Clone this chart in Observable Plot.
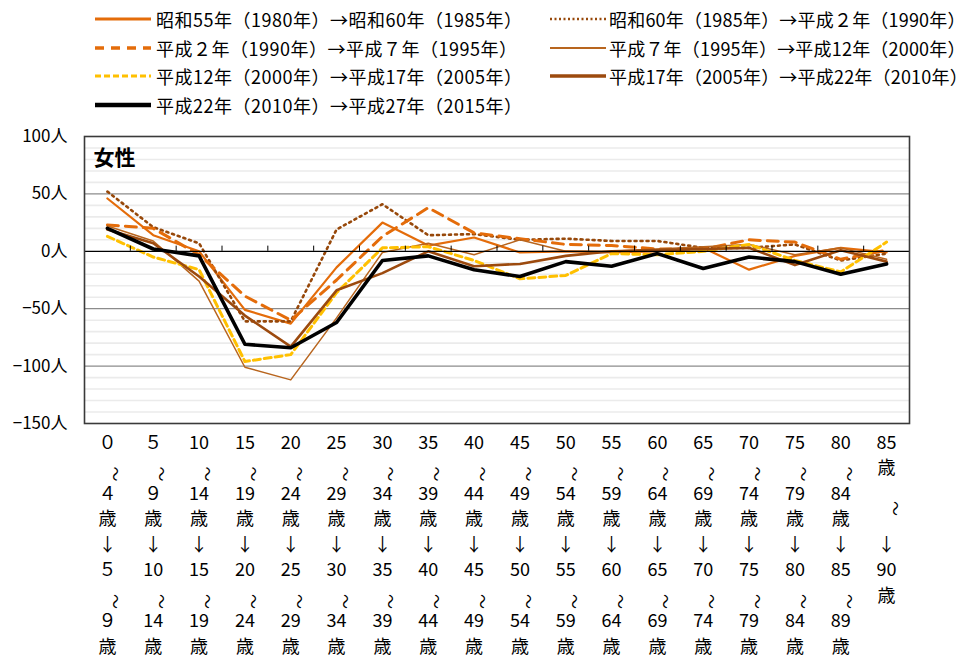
<!DOCTYPE html>
<html><head><meta charset="utf-8">
<script src="https://cdn.jsdelivr.net/npm/d3@7"></script>
<script src="https://cdn.jsdelivr.net/npm/@observablehq/plot@0.6"></script>
<style>
body{margin:0;background:#fff;font-family:"Noto Sans CJK JP","Noto Sans",sans-serif;color:#000;}
#legend{position:relative;width:974px;height:118px;overflow:hidden;}
.sw{position:absolute;width:56px;height:10px;}
.lt{position:absolute;font-size:18px;line-height:24px;white-space:nowrap;letter-spacing:0.5px;}
.lt.c2{letter-spacing:0.2px;}
#chart{width:974px;}
</style></head><body>
<div id="legend"></div>
<div id="chart"></div>
<script>
// ---- data ----
const seriesNames = [
  "昭和55年（1980年）→昭和60年（1985年）",
  "昭和60年（1985年）→平成２年（1990年）",
  "平成２年（1990年）→平成７年（1995年）",
  "平成７年（1995年）→平成12年（2000年）",
  "平成12年（2000年）→平成17年（2005年）",
  "平成17年（2005年）→平成22年（2010年）",
  "平成22年（2010年）→平成27年（2015年）"
];
const s1 = [46, 14, 0, -51, -63, -14, 25, 5, 12, -1, 0, -1, 0, 3, -16, -4, 3, -1];
const s2 = [52, 21, 7, -61, -61, 19, 41, 14, 15, 10, 11, 9, 9, 3, 3, 6, -8, -2];
const s3 = [23, 20, -3, -39, -60, -25, 13, 38, 16, 11, 6, 5, 2, 2, 10, 8, -7, 1];
const s4 = [22, 9, -26, -101, -112, -58, -1, 7, -3, 10, 0, 0, 2, 4, 6, -3, 3, -7];
const s5 = [13, -5, -16, -96, -90, -36, 3, 4, -8, -24, -21, -2, -3, 0, 6, -8, -18, 8];
const s6 = [19, 7, -22, -56, -83, -34, -19, 0, -13, -11, -4, 0, 1, 2, 3, -12, 1, -9];
const s7 = [20, 2, -4, -81, -84, -62, -8, -4, -16, -22, -9, -13, -2, -15, -5, -9, -20, -11];
const seriesValues = [s1, s2, s3, s4, s5, s6, s7];
const tickLabels = [
  "０|～|４|歳|↓|５|～|９|歳",
  "５|～|９|歳|↓|10|～|14|歳",
  "10|～|14|歳|↓|15|～|19|歳",
  "15|～|19|歳|↓|20|～|24|歳",
  "20|～|24|歳|↓|25|～|29|歳",
  "25|～|29|歳|↓|30|～|34|歳",
  "30|～|34|歳|↓|35|～|39|歳",
  "35|～|39|歳|↓|40|～|44|歳",
  "40|～|44|歳|↓|45|～|49|歳",
  "45|～|49|歳|↓|50|～|54|歳",
  "50|～|54|歳|↓|55|～|59|歳",
  "55|～|59|歳|↓|60|～|64|歳",
  "60|～|64|歳|↓|65|～|69|歳",
  "65|～|69|歳|↓|70|～|74|歳",
  "70|～|74|歳|↓|75|～|79|歳",
  "75|～|79|歳|↓|80|～|84|歳",
  "80|～|84|歳|↓|85|～|89|歳",
  "85|歳|～|↓|90|歳"
];
const yTicks = [-150, -100, -50, 0, 50, 100];
const panelLabel = "女性";

// ---- styles ----
const styles = [
  {stroke:"#e46c0a", strokeWidth:2.2},
  {stroke:"#97480a", strokeWidth:2.6, strokeDasharray:"2 4"},
  {stroke:"#e46c0a", strokeWidth:3, strokeDasharray:"11 7"},
  {stroke:"#b8651e", strokeWidth:1.5},
  {stroke:"#ffc000", strokeWidth:3, strokeDasharray:"7 4"},
  {stroke:"#9c4a0e", strokeWidth:2.6},
  {stroke:"#000000", strokeWidth:3.6}
];
const legendStyles = [
  {stroke:"#e46c0a", w:3},
  {stroke:"#97480a", w:2.5, dash:"2 2.5"},
  {stroke:"#e46c0a", w:3.5, dash:"9 7"},
  {stroke:"#b8651e", w:2},
  {stroke:"#ffc000", w:3, dash:"6 3"},
  {stroke:"#9c4a0e", w:3.5},
  {stroke:"#000", w:4.5}
];

// ---- legend ----
const legend = document.getElementById("legend");
const rowY = [19, 47.5, 76, 104.5];
seriesNames.forEach((name, k) => {
  const col = k % 2, row = Math.floor(k / 2);
  const sx = col === 0 ? 95 : 550, tx = col === 0 ? 156 : 609;
  const ls = legendStyles[k];
  const sw = document.createElementNS("http://www.w3.org/2000/svg", "svg");
  sw.setAttribute("class", "sw");
  sw.setAttribute("width", 56); sw.setAttribute("height", 10);
  sw.style.left = sx + "px"; sw.style.top = (rowY[row] - 5) + "px";
  sw.innerHTML = `<line x1="0" y1="5" x2="56" y2="5" stroke="${ls.stroke}" stroke-width="${ls.w}" ${ls.dash ? `stroke-dasharray="${ls.dash}"` : ""}/>`;
  legend.appendChild(sw);
  const t = document.createElement("div");
  t.className = col === 0 ? "lt" : "lt c2"; t.textContent = name;
  t.style.left = tx + "px"; t.style.top = (rowY[row] - 12) + "px";
  legend.appendChild(t);
});

// ---- chart ----
const rows = seriesValues.flatMap((vals, s) => vals.map((v, i) => ({s, i, v})));
const labelRows = tickLabels.flatMap((lab, i) => {
  const parts = lab.split("|");
  const slots = parts.length === 9 ? [0,1,2,3,4,5,6,7,8] : [0,1,2.35,4,5,6];
  return parts.map((t, j) => ({i, t, slot: slots[j]}));
});
const slotList = Array.from(new Set(labelRows.map(d => d.slot)));
const labelMarks = slotList.map(slot => {
  const sub = labelRows.filter(d => d.slot === slot);
  const tilde = sub.filter(d => d.t === "～");
  const normal = sub.filter(d => d.t !== "～");
  const dy = 25 + slot * 25.5;
  return [
    Plot.text(normal, {x: "i", text: "t", frameAnchor: "bottom", dy, fontSize: 18, fill: "#000"}),
    Plot.text(tilde, {x: "i", text: "t", frameAnchor: "bottom", dy: dy, dx: 3, rotate: 90, fontSize: 15, fill: "#000"})
  ];
});

const minor = d3.range(-140, 100, 10).filter(d => d % 50 !== 0);
const chart = Plot.plot({
  width: 974, height: 544,
  marginLeft: 84, marginRight: 65, marginTop: 18, marginBottom: 239,
  style: {fontFamily: '"Noto Sans CJK JP", sans-serif', background: "#fff", color: "#000"},
  x: {domain: [-0.5, 17.5], axis: null},
  y: {domain: [-150, 100], axis: null},
  marks: [
    Plot.ruleY(minor, {stroke: "#ebebeb", strokeWidth: 1.6}),
    Plot.ruleY([-100, -50, 50], {stroke: "#8c8c8c", strokeWidth: 1.2}),
    Plot.axisY({ticks: yTicks, label: null, tickSize: 0, tickPadding: 17, fontSize: 17,
      tickFormat: d => (d < 0 ? "−" + (-d) : d) + "人"}),
    ...seriesValues.map((vals, s) => Plot.line(rows.filter(d => d.s === s), {x: "i", y: "v", ...styles[s]})),
    Plot.ruleY([0], {stroke: "#000", strokeWidth: 1.2}),
    Plot.ruleX(d3.range(0.5, 17, 1), {y1: 0, y2: 4.5, stroke: "#000", strokeWidth: 1}),
    Plot.frame({stroke: "#3a3a3a", strokeWidth: 1.6}),
    Plot.text([panelLabel], {frameAnchor: "top-left", dx: 9, dy: 14, fontSize: 21, fontWeight: "bold", fill: "#000", lineAnchor: "top"}),
    ...labelMarks.flat()
  ]
});
document.getElementById("chart").appendChild(chart);
</script>
</body></html>
